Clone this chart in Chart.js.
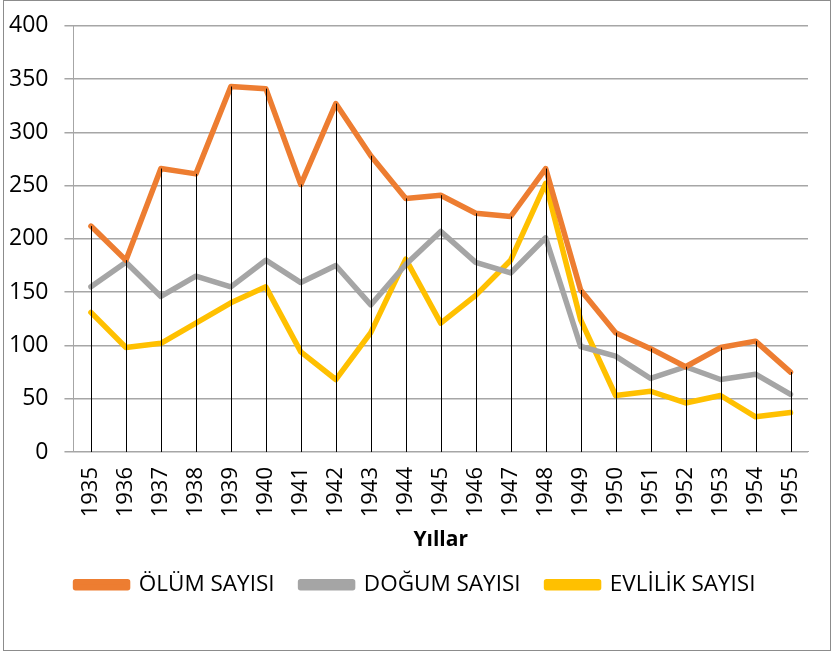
<!DOCTYPE html>
<html>
<head>
<meta charset="utf-8">
<script src="https://cdn.jsdelivr.net/npm/chart.js@4/dist/chart.umd.min.js"></script>
<style>
  html, body { margin: 0; padding: 0; background: #fff; }
  #wrap { position: absolute; left: 3px; top: 0px; width: 828px; height: 651px; border: 1px solid #8c8c8c; box-sizing: border-box; }
  #box { position: absolute; left: 0; top: 0; width: 834px; height: 654px; }
</style>
</head>
<body>
<div id="wrap"></div>
<div id="box"><canvas id="myChart" width="834" height="654"></canvas></div>
<script>
const years = ["1935","1936","1937","1938","1939","1940","1941","1942","1943","1944","1945",
  "1946","1947","1948","1949","1950","1951","1952","1953","1954","1955"];
const olum = [212, 180, 266, 261, 343, 341, 251, 327, 278, 238, 241, 224, 221, 266, 152, 112, 97, 80, 98, 104, 75];
const dogum = [155, 178, 146, 165, 155, 180, 159, 175, 138, 176, 207, 178, 168, 201, 99, 90, 69, 80, 68, 73, 54];
const evlilik = [131, 98, 102, 121, 140, 155, 94, 68, 112, 181, 121, 147, 180, 252, 124, 53, 57, 46, 53, 33, 37];

const font = "'Open Sans', 'Noto Sans', sans-serif";

// Excel-style drop lines from the highest point down to the axis
const dropLines = {
  id: "dropLines",
  afterLayout(chart) {
    // legend sits a little right of centre in the original
    chart.legend.left += 15;
    chart.legend.right += 15;
  },
  afterDatasetsDraw(chart) {
    const ctx = chart.ctx;
    const x = chart.scales.x;
    const y = chart.scales.y;
    ctx.save();
    ctx.strokeStyle = "#000";
    ctx.lineWidth = 1;
    years.forEach((yr, i) => {
      const top = Math.max(olum[i], dogum[i], evlilik[i]);
      const px = Math.round(x.getPixelForValue(i)) + 0.5;
      ctx.beginPath();
      ctx.moveTo(px, y.getPixelForValue(top));
      ctx.lineTo(px, y.getPixelForValue(0));
      ctx.stroke();
    });
    ctx.restore();
  }
};

const ctx = document.getElementById("myChart").getContext("2d");
const myChart = new Chart(ctx, {
  type: "line",
  data: {
    labels: years,
    datasets: [
      { label: "ÖLÜM SAYISI", data: olum, borderColor: "#ED7D31", backgroundColor: "#ED7D31", borderWidth: 5.5 },
      { label: "DOĞUM SAYISI", data: dogum, borderColor: "#A5A5A5", backgroundColor: "#A5A5A5", borderWidth: 5.5 },
      { label: "EVLİLİK SAYISI", data: evlilik, borderColor: "#FFC000", backgroundColor: "#FFC000", borderWidth: 5.5 },
    ],
  },
  plugins: [dropLines],
  options: {
    responsive: false,
    animation: false,
    layout: { padding: { left: -7, right: 26, top: -1, bottom: 48 } },
    elements: { point: { radius: 0 }, line: { tension: 0, borderJoinStyle: "round", borderCapStyle: "round" } },
    plugins: {
      tooltip: { enabled: false },
      legend: {
        position: "bottom",
        labels: {
          color: "#000",
          font: { family: font, size: 22.5 },
          boxWidth: 52,
          boxHeight: 6,
          padding: 26,
        },
      },
    },
    scales: {
      x: {
        offset: true,
        grid: { display: false, drawTicks: false },
        border: { display: true, color: "#a6a6a6" },
        ticks: {
          color: "#000",
          maxRotation: 90,
          minRotation: 90,
          padding: 15,
          font: { family: font, size: 22 },
        },
        title: {
          display: true,
          text: "Yıllar",
          color: "#000",
          padding: { top: -5, bottom: -5 },
          font: { family: font, size: 21, weight: "bold" },
        },
      },
      y: {
        min: 0,
        max: 400,
        ticks: {
          stepSize: 50,
          color: "#000",
          padding: 16,
          font: { family: font, size: 23, lineHeight: 0.85 },
        },
        grid: { color: "#a6a6a6", lineWidth: 1.5, drawTicks: true, tickLength: 9 },
        border: { display: true, color: "#a6a6a6" },
      },
    },
  },
});
</script>
</body>
</html>
